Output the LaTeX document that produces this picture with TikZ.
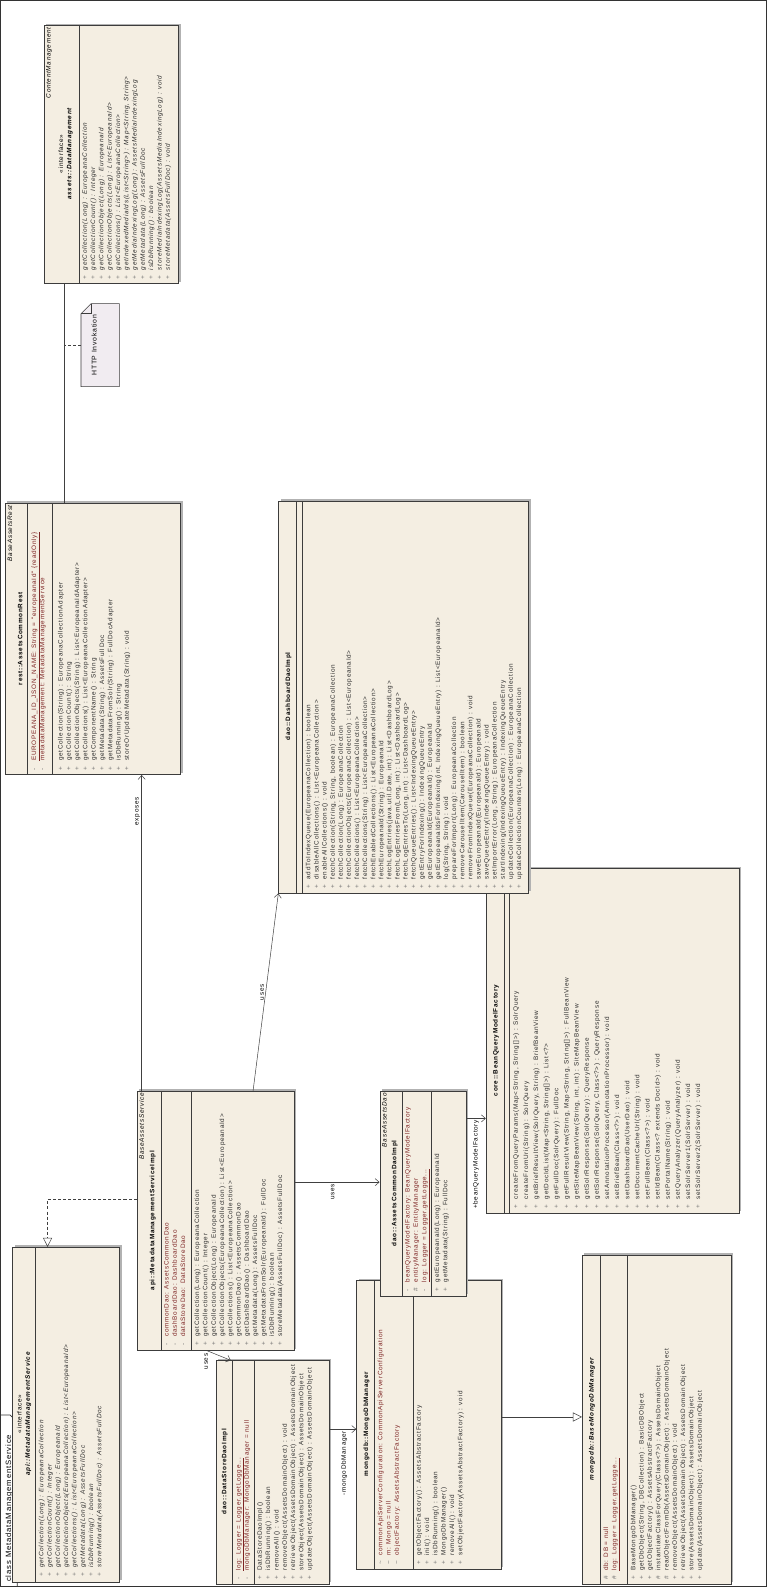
\documentclass[tikz,border=0pt]{standalone}
\usepackage{fontspec}
\setmainfont{Liberation Sans}
\newfontfamily\umlfont[LetterSpace=11]{Liberation Sans}
\usetikzlibrary{arrows.meta,shadows}
\definecolor{clsfill}{RGB}{244,238,226}
\definecolor{clsline}{RGB}{60,60,60}
\definecolor{attrcol}{RGB}{125,35,35}
\definecolor{opcol}{RGB}{45,45,45}
\definecolor{notefill}{RGB}{241,236,241}
\newcommand\umltext{\umlfont\fontsize{6.3}{8.2}\selectfont}
\newcommand\vmark[1]{\makebox[9pt][l]{\color{black!55}#1}}

\begin{document}
\begin{tikzpicture}[x=1pt, y=-1pt,
    cls/.style={draw=clsline, fill=clsfill, line width=0.7pt, inner sep=0pt, anchor=north west,
      drop shadow={shadow xshift=2pt, shadow yshift=2pt, fill=black!30, opacity=1}},
    sep/.style={draw=clsline, line width=0.6pt},
    mem/.style={rotate=90, anchor=north west, inner sep=0pt, align=left, font=\umltext, text=opcol},
    att/.style={mem, text=attrcol},
    cname/.style={rotate=90, inner sep=0pt, font=\umltext\bfseries},
    parent/.style={rotate=90, anchor=north east, inner sep=0pt, font=\umltext\itshape},
    stereo/.style={rotate=90, inner sep=0pt, font=\umltext},
    link/.style={draw=black!75, line width=0.5pt},
    navig/.style={link, -{Straight Barb[length=4pt, width=7pt]}},
    realize/.style={link, dash pattern=on 3pt off 2pt, -{Triangle[fill=white, length=9pt, width=9pt]}},
    lbl/.style={rotate=90, inner sep=1.5pt, font=\umltext}]
  \useasboundingbox (0,0) rectangle (758,1568);

  % diagram frame
  \draw[black!80, line width=0.6pt] (0.5,0.5) rectangle (757.5,1567.5);
  \draw[black!80, line width=0.6pt] (0.5,1398) -- (10,1398) -- (17,1405) -- (17,1567.5);
  \node[rotate=90, anchor=west, inner sep=0pt, font=\umlfont\fontsize{7.6}{8}\selectfont] (frametitle) at (9,1563) {class MetadataManagementService};

  % assets::DataManagement
  \node[cls, minimum width=133, minimum height=255] (dm) at (43,25) {};
  \node[parent] at (45.5,27) {ContentManagement};
  \node[stereo] at (60,152) {«interface»};
  \node[cname, font=\umltext\bfseries\itshape] at (69,152) {assets::DataManagement};
  \draw[sep] (78,25) -- (78,280);
  \node[mem, font=\umltext\itshape] at (81,276) {\vmark{+}getCollection(Long) : EuropeanaCollection\\
    \vmark{+}getCollectionCount() : Integer\\
    \vmark{+}getCollectionObject(Long) : EuropeanaId\\
    \vmark{+}getCollectionObjects(Long) : List<EuropeanaId>\\
    \vmark{+}getCollections() : List<EuropeanaCollection>\\
    \vmark{+}getIndexedMediaIds(List<String>) : Map<String, String>\\
    \vmark{+}getMediaIndexingLog(Long) : AssetsMediaIndexingLog\\
    \vmark{+}getMetadata(Long) : AssetsFullDoc\\
    \vmark{+}isDbRunning() : boolean\\
    \vmark{+}storeMediaIndexingLog(AssetsMediaIndexingLog) : void\\
    \vmark{+}storeMetadata(AssetsFullDoc) : void};

  % note
  \node[inner sep=0pt, minimum width=38, minimum height=82, anchor=north west] (note) at (80,300) {};
  \draw[clsline, fill=notefill, line width=0.6pt] (80,310) -- (90,300) -- (118,300) -- (118,382) -- (80,382) -- cycle;
  \draw[clsline, line width=0.6pt] (80,310) -- (90,310) -- (90,300);
  \node[rotate=90, inner sep=0pt, font=\umlfont\fontsize{6.8}{8}\selectfont] at (93,341) {HTTP Invokation};

  % rest::AssetsCommonRest
  \node[cls, minimum width=173, minimum height=268] (rest) at (5,497) {};
  \node[parent] at (7.5,499) {BaseAssetsRest};
  \node[cname] at (20,631) {rest::AssetsCommonRest};
  \draw[sep] (27,497) -- (27,765);
  \node[att] at (31,761) {\vmark{-}\underline{EUROPEANA\_ID\_JSON\_NAME: String = "europeanaId" \{readOnly\}}\\
    \vmark{-}metadataManagement: MetadataManagementService};
  \draw[sep] (52,497) -- (52,765);
  \node[mem] at (57,761) {\vmark{+}getCollection(String) : EuropeanaCollectionAdapter\\
    \vmark{+}getCollectionCount() : String\\
    \vmark{+}getCollectionObjects(String) : List<EuropeanaIdAdapter>\\
    \vmark{+}getCollections() : List<EuropeanaCollectionAdapter>\\
    \vmark{+}getComponentName() : String\\
    \vmark{+}getMetadata(String) : AssetsFullDoc\\
    \vmark{+}getMetadataFromSolr(String) : FullDocAdapter\\
    \vmark{+}isDbRunning() : String\\
    \vmark{+}storeOrUpdateMetadata(String) : void};

  % api::MetadataManagementService
  \node[cls, minimum width=106, minimum height=331] (iface) at (12,1232) {};
  \node[stereo] at (19,1397) {«interface»};
  \node[cname, font=\umltext\bfseries\itshape] at (28,1397) {api::MetadataManagementService};
  \draw[sep] (35,1232) -- (35,1563);
  \node[mem, font=\umltext\itshape] at (38,1558) {\vmark{+}getCollection(Long) : EuropeanaCollection\\
    \vmark{+}getCollectionCount() : Integer\\
    \vmark{+}getCollectionObject(Long) : EuropeanaId\\
    \vmark{+}getCollectionObjects(EuropeanaCollection) : List<EuropeanaId>\\
    \vmark{+}getCollections() : List<EuropeanaCollection>\\
    \vmark{+}getMetadata(Long) : AssetsFullDoc\\
    \vmark{+}isDbRunning() : boolean\\
    \vmark{+}storeMetadata(AssetsFullDoc) : AssetsFullDoc};

  % api::MetadataManagementServiceImpl
  \node[cls, minimum width=155, minimum height=256] (impl) at (135,1078) {};
  \node[parent] at (137.5,1080) {BaseAssetsService};
  \node[cname] at (151,1206) {api::MetadataManagementServiceImpl};
  \draw[sep] (159,1078) -- (159,1334);
  \node[att] at (162,1330) {\vmark{-}commonDao: AssetsCommonDao\\
    \vmark{-}dashBoardDao: DashboardDao\\
    \vmark{-}dataStoreDao: DataStoreDao};
  \draw[sep] (189.5,1078) -- (189.5,1334);
  \node[mem] at (192,1330) {\vmark{+}getCollection(Long) : EuropeanaCollection\\
    \vmark{+}getCollectionCount() : Integer\\
    \vmark{+}getCollectionObject(Long) : EuropeanaId\\
    \vmark{+}getCollectionObjects(EuropeanaCollection) : List<EuropeanaId>\\
    \vmark{+}getCollections() : List<EuropeanaCollection>\\
    \vmark{+}getCommonDao() : AssetsCommonDao\\
    \vmark{+}getDashBoardDao() : DashboardDao\\
    \vmark{+}getMetadata(Long) : AssetsFullDoc\\
    \vmark{+}getMetadataFromSolr(EuropeanaId) : FullDoc\\
    \vmark{+}isDbRunning() : boolean\\
    \vmark{+}storeMetadata(AssetsFullDoc) : AssetsFullDoc};

  % dao::DataStoreDaoImpl
  \node[cls, minimum width=112, minimum height=221] (dsd) at (213,1344) {};
  \node[cname] at (222,1454) {dao::DataStoreDaoImpl};
  \draw[sep] (230,1344) -- (230,1565);
  \node[att] at (233,1561) {\vmark{-}\underline{log: Logger = Logger.getLogge...}\\
    \vmark{-}mongoDbManager: MongoDbManager = null};
  \draw[sep] (251.5,1344) -- (251.5,1565);
  \node[mem] at (254,1561) {\vmark{+}DataStoreDaoImpl()\\
    \vmark{+}isDbRunning() : boolean\\
    \vmark{+}removeAll() : void\\
    \vmark{+}removeObject(AssetsDomainObject) : void\\
    \vmark{+}retrieveObject(AssetsDomainObject) : AssetsDomainObject\\
    \vmark{+}storeObject(AssetsDomainObject) : AssetsDomainObject\\
    \vmark{+}updateObject(AssetsDomainObject) : AssetsDomainObject};

  % mongodb::MongoDbManager
  \node[cls, minimum width=143, minimum height=285] (mongo) at (352,1265) {};
  \node[cname] at (362,1407) {mongodb::MongoDbManager};
  \draw[sep] (370,1265) -- (370,1550);
  \node[att] at (373,1546) {\vmark{\textasciitilde}commonApiServerConfiguration: CommonApiServerConfiguration\\
    \vmark{\textasciitilde}m: Mongo = null\\
    \vmark{\textasciitilde}objectFactory: AssetsAbstractFactory};
  \draw[sep] (408,1265) -- (408,1550);
  \node[mem] at (411,1546) {\vmark{+}getObjectFactory() : AssetsAbstractFactory\\
    \vmark{+}init() : void\\
    \vmark{+}isDbRunning() : boolean\\
    \vmark{+}MongoDbManager()\\
    \vmark{+}removeAll() : void\\
    \vmark{+}setObjectFactory(AssetsAbstractFactory) : void};

  % mongodb::BaseMongoDbManager
  \node[cls, minimum width=147, minimum height=325] (basemongo) at (575,1240) {};
  \node[cname, font=\umltext\bfseries\itshape] at (585,1402) {mongodb::BaseMongoDbManager};
  \draw[sep] (593,1240) -- (593,1565);
  \node[att] at (596,1561) {\vmark{\#}db: DB = null\\
    \vmark{\#}\underline{log: Logger = Logger.getLogge...}};
  \draw[sep] (620,1240) -- (620,1565);
  \node[mem] at (623,1561) {\vmark{+}BaseMongoDbManager()\\
    \vmark{+}getDbObject(String, DBCollection) : BasicDBObject\\
    \vmark{+}getObjectFactory() : AssetsAbstractFactory\\
    \vmark{\#}instantiateClassForQuery(Class<?>) : AssetsDomainObject\\
    \vmark{\#}readObjectFromDb(AssetsDomainObject) : AssetsDomainObject\\
    \vmark{+}removeObject(AssetsDomainObject) : void\\
    \vmark{+}retrieveObject(AssetsDomainObject) : AssetsDomainObject\\
    \vmark{+}store(AssetsDomainObject) : AssetsDomainObject\\
    \vmark{+}update(AssetsDomainObject) : AssetsDomainObject};

  % dao::AssetsCommonDaoImpl
  \node[cls, minimum width=85, minimum height=202] (acd) at (375,1078) {};
  \node[parent] at (377.5,1080) {BaseAssetsDao};
  \node[cname] at (390,1179) {dao::AssetsCommonDaoImpl};
  \draw[sep] (397,1078) -- (397,1280);
  \node[att] at (400,1276) {\vmark{-}beanQueryModelFactory: BeanQueryModelFactory\\
    \vmark{\#}entityManager: EntityManager\\
    \vmark{-}\underline{log: Logger = Logger.getLogge...}};
  \draw[sep] (426.5,1078) -- (426.5,1280);
  \node[mem] at (429,1276) {\vmark{+}getEuropeanaId(Long) : EuropeanaId\\
    \vmark{+}getMetadata(String) : FullDoc};

  % core::BeanQueryModelFactory
  \node[cls, minimum width=250, minimum height=340] (bean) at (480,858) {};
  \node[cname] at (490,1028) {core::BeanQueryModelFactory};
  \draw[sep] (498,858) -- (498,1198);
  \draw[sep] (503,858) -- (503,1198);
  \node[mem, font=\umlfont\fontsize{6.3}{10}\selectfont] at (507,1194) {\vmark{+}createFromQueryParams(Map<String, String[]>) : SolrQuery\\
    \vmark{+}createFromUri(String) : SolrQuery\\
    \vmark{+}getBriefResultView(SolrQuery, String) : BriefBeanView\\
    \vmark{+}getDocIdList(Map<String, String[]>) : List<?>\\
    \vmark{+}getFullDoc(SolrQuery) : FullDoc\\
    \vmark{+}getFullResultView(String, Map<String, String[]>) : FullBeanView\\
    \vmark{+}getSiteMapBeanView(String, int, int) : SiteMapBeanView\\
    \vmark{+}getSolrResponse(SolrQuery) : QueryResponse\\
    \vmark{+}getSolrResponse(SolrQuery, Class<?>) : QueryResponse\\
    \vmark{+}setAnnotationProcessor(AnnotationProcessor) : void\\
    \vmark{+}setBriefBean(Class<?>) : void\\
    \vmark{+}setDashboardDao(UserDao) : void\\
    \vmark{+}setDocumentCacheUrl(String) : void\\
    \vmark{+}setFullBean(Class<?>) : void\\
    \vmark{+}setIdBean(Class<? extends DocId>) : void\\
    \vmark{+}setPortalName(String) : void\\
    \vmark{+}setQueryAnalyzer(QueryAnalyzer) : void\\
    \vmark{+}setSolrServer1(SolrServer) : void\\
    \vmark{+}setSolrServer2(SolrServer) : void};

  % dao::DashboardDaoImpl
  \node[cls, minimum width=247, minimum height=387] (dash) at (275,495) {};
  \node[cname] at (285,688) {dao::DashboardDaoImpl};
  \draw[sep] (293,495) -- (293,882);
  \draw[sep] (299,495) -- (299,882);
  \node[mem, font=\umlfont\fontsize{6.3}{8}\selectfont] at (302,878) {\vmark{+}addToIndexQueue(EuropeanaCollection) : boolean\\
    \vmark{+}disableAllCollections() : List<EuropeanaCollection>\\
    \vmark{+}enableAllCollections() : void\\
    \vmark{+}fetchCollection(String, String, boolean) : EuropeanaCollection\\
    \vmark{+}fetchCollection(Long) : EuropeanaCollection\\
    \vmark{+}fetchCollectionObjects(EuropeanaCollection) : List<EuropeanaId>\\
    \vmark{+}fetchCollections() : List<EuropeanaCollection>\\
    \vmark{+}fetchCollections(String) : List<EuropeanaCollection>\\
    \vmark{+}fetchEnabledCollections() : List<EuropeanaCollection>\\
    \vmark{+}fetchEuropeanaId(String) : EuropeanaId\\
    \vmark{+}fetchLogEntries(java.util.Date, int) : List<DashboardLog>\\
    \vmark{+}fetchLogEntriesFrom(Long, int) : List<DashboardLog>\\
    \vmark{+}fetchLogEntriesTo(Long, int) : List<DashboardLog>\\
    \vmark{+}fetchQueueEntries() : List<IndexingQueueEntry>\\
    \vmark{+}getEntryForIndexing() : IndexingQueueEntry\\
    \vmark{+}getEuropeanaId(EuropeanaId) : EuropeanaId\\
    \vmark{+}getEuropeanaIdsForIndexing(int, IndexingQueueEntry) : List<EuropeanaId>\\
    \vmark{+}log(String, String) : void\\
    \vmark{+}prepareForImport(Long) : EuropeanaCollection\\
    \vmark{+}removeCarouselItem(CarouselItem) : boolean\\
    \vmark{+}removeFromIndexQueue(EuropeanaCollection) : void\\
    \vmark{+}saveEuropeanaId(EuropeanaId) : EuropeanaId\\
    \vmark{+}saveQueueEntry(IndexingQueueEntry) : void\\
    \vmark{+}setImportError(Long, String) : EuropeanaCollection\\
    \vmark{+}startIndexing(IndexingQueueEntry) : IndexingQueueEntry\\
    \vmark{+}updateCollection(EuropeanaCollection) : EuropeanaCollection\\
    \vmark{+}updateCollectionCounters(Long) : EuropeanaCollection};

  % connectors
  \draw[link] (63,0 |- dm.south) -- (63,0 |- rest.north);
  \draw[link, dash pattern=on 3pt off 2pt] (note.west) -- (63,0 |- note.west);
  \draw[navig] (140,0 |- impl.north) -- node[lbl, pos=0.885, anchor=south] {exposes} (140,0 |- rest.south);
  \draw[realize] (impl.west |- 0,1185) -| (47,0 |- iface.north);
  \draw[navig] (250,0 |- impl.north) -- node[lbl, pos=0.5, anchor=south] {uses} (dash.south west);
  \draw[navig] (impl.east |- 0,1168) -- node[lbl, pos=0.45, anchor=east] {uses} (acd.west |- 0,1168);
  \draw[navig] (205,0 |- impl.south) -- node[lbl, pos=0.1, anchor=south east] {uses} (228,0 |- dsd.north);
  \draw[navig] (dsd.east |- 0,1412) -- node[lbl, pos=0.55, anchor=east] {-mongoDbManager} (mongo.west |- 0,1412);
  \draw[link, -{Triangle[fill=white, length=9pt, width=9pt]}] (mongo.east |- 0,1400) -- (basemongo.west |- 0,1400);
  \draw[navig] (acd.east |- 0,1105) -- node[lbl, pos=0.5, anchor=east] {+beanQueryModelFactory} (bean.west |- 0,1105);
\end{tikzpicture}
\end{document}
